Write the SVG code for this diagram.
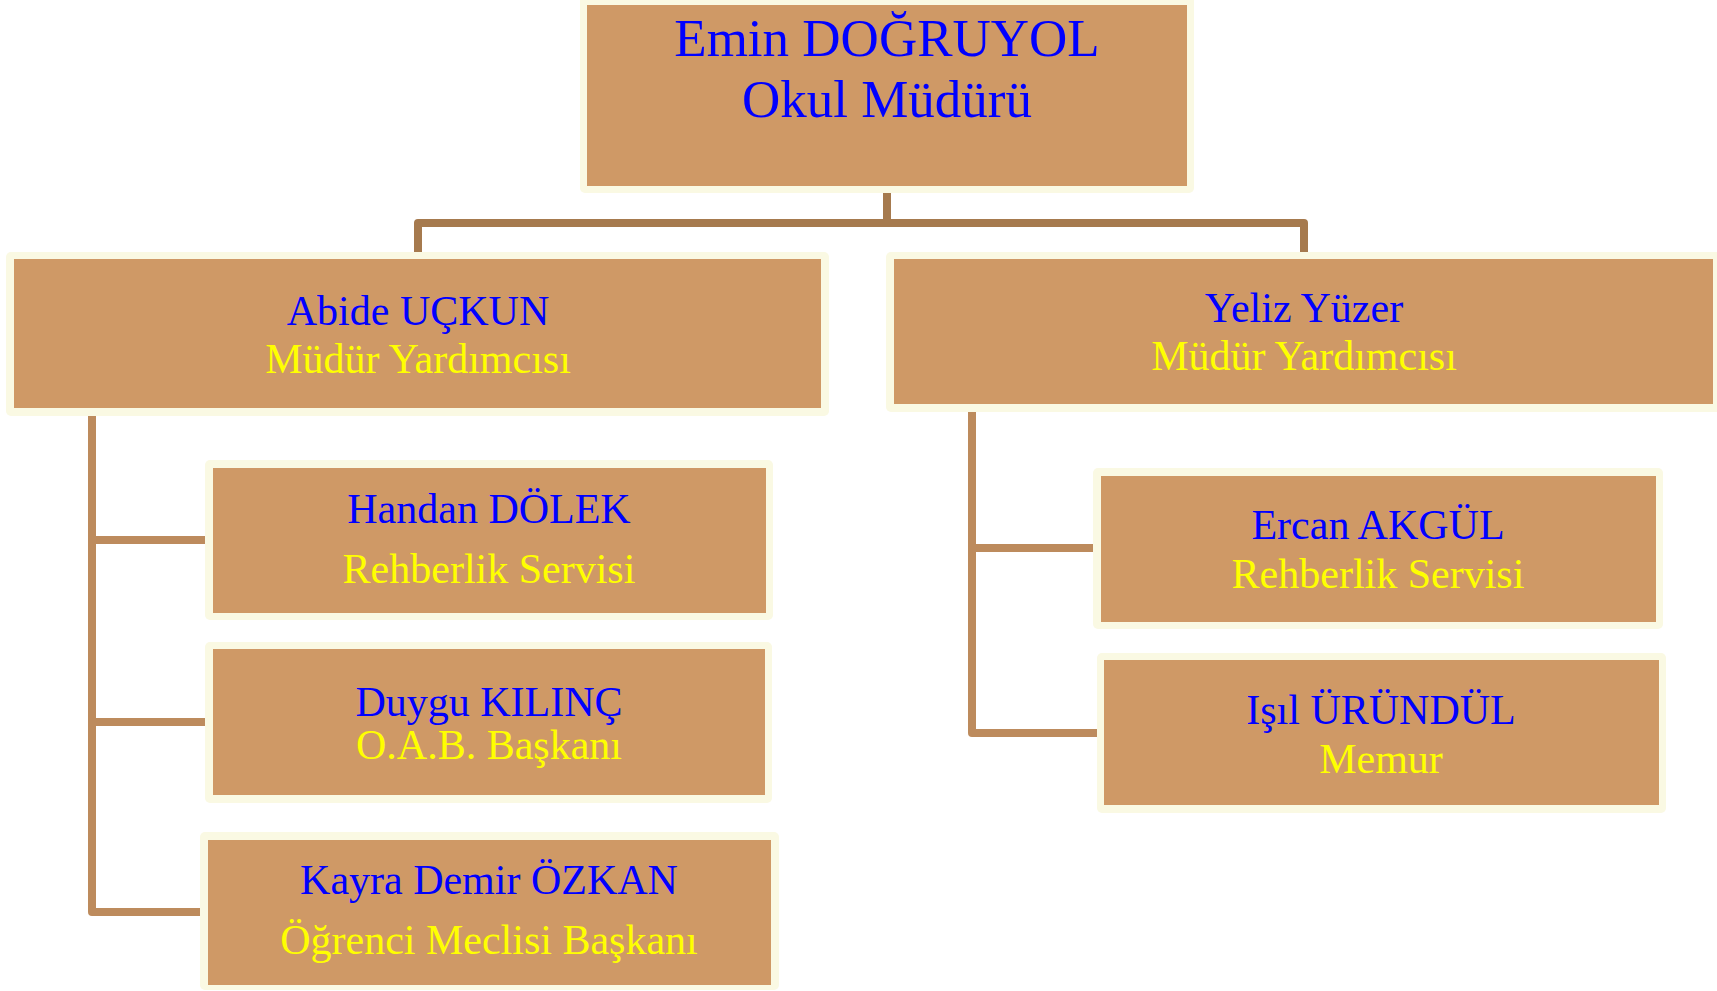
<svg xmlns="http://www.w3.org/2000/svg" width="1717" height="991" viewBox="0 0 1717 991">
<style>
.frame{fill:#FAF9E3}
.box{fill:#CF9966}
.name{font-family:"Liberation Serif","Times New Roman",serif;font-size:42px;fill:#0000FF;text-anchor:middle}
.role{font-family:"Liberation Serif","Times New Roman",serif;font-size:42px;fill:#FFFF00;text-anchor:middle}
.big{font-size:53px}
.top{fill:none;stroke:#A67A4E;stroke-width:8;stroke-linejoin:round}
.sub{fill:none;stroke:#BD8B5D;stroke-width:8;stroke-linejoin:round}
</style>
<rect width="1717" height="991" fill="#FFFFFF"/>
<g id="connectors">
<path class="top" d="M887 193 V223 M418 252 V223 H1304 V252"/>
<path class="sub" d="M92 416 V912 H201 M92 540 H206 M92 722 H206"/>
<path class="sub" d="M972 412 V733 H1098 M972 548 H1094"/>
</g>
<g id="emin">
<rect class="frame" x="580" y="-4" width="614" height="197" rx="5"/>
<rect class="box" x="587" y="5" width="600" height="181"/>
<text class="name big" x="887" y="56">Emin DOĞRUYOL</text>
<text class="name big" x="887" y="117">Okul Müdürü</text>
</g>
<g id="abide">
<rect class="frame" x="6" y="252" width="823" height="164" rx="5"/>
<rect class="box" x="14" y="259" width="807" height="149"/>
<text class="name" x="418" y="325">Abide UÇKUN</text>
<text class="role" x="418" y="373">Müdür Yardımcısı</text>
</g>
<g id="yeliz">
<rect class="frame" x="886" y="252" width="840" height="160" rx="5"/>
<rect class="box" x="894" y="259" width="819" height="145"/>
<text class="name" x="1304" y="322">Yeliz Yüzer</text>
<text class="role" x="1304" y="370">Müdür Yardımcısı</text>
</g>
<g id="handan">
<rect class="frame" x="205" y="460" width="568" height="160" rx="5"/>
<rect class="box" x="213" y="468" width="553" height="145"/>
<text class="name" x="489" y="523">Handan DÖLEK</text>
<text class="role" x="489" y="583">Rehberlik Servisi</text>
</g>
<g id="duygu">
<rect class="frame" x="205" y="642" width="567" height="161" rx="5"/>
<rect class="box" x="213" y="649" width="552" height="146"/>
<text class="name" x="489" y="716">Duygu KILINÇ</text>
<text class="role" x="489" y="759">O.A.B. Başkanı</text>
</g>
<g id="kayra">
<rect class="frame" x="200" y="832" width="579" height="158" rx="5"/>
<rect class="box" x="208" y="840" width="563" height="145"/>
<text class="name" x="489" y="894">Kayra Demir ÖZKAN</text>
<text class="role" x="489" y="954">Öğrenci Meclisi Başkanı</text>
</g>
<g id="ercan">
<rect class="frame" x="1093" y="468" width="570" height="161" rx="5"/>
<rect class="box" x="1101" y="476" width="555" height="146"/>
<text class="name" x="1378" y="539">Ercan AKGÜL</text>
<text class="role" x="1378" y="588">Rehberlik Servisi</text>
</g>
<g id="isil">
<rect class="frame" x="1097" y="653" width="569" height="160" rx="5"/>
<rect class="box" x="1104" y="660" width="555" height="145"/>
<text class="name" x="1381" y="724">Işıl ÜRÜNDÜL</text>
<text class="role" x="1381" y="773">Memur</text>
</g>
</svg>
